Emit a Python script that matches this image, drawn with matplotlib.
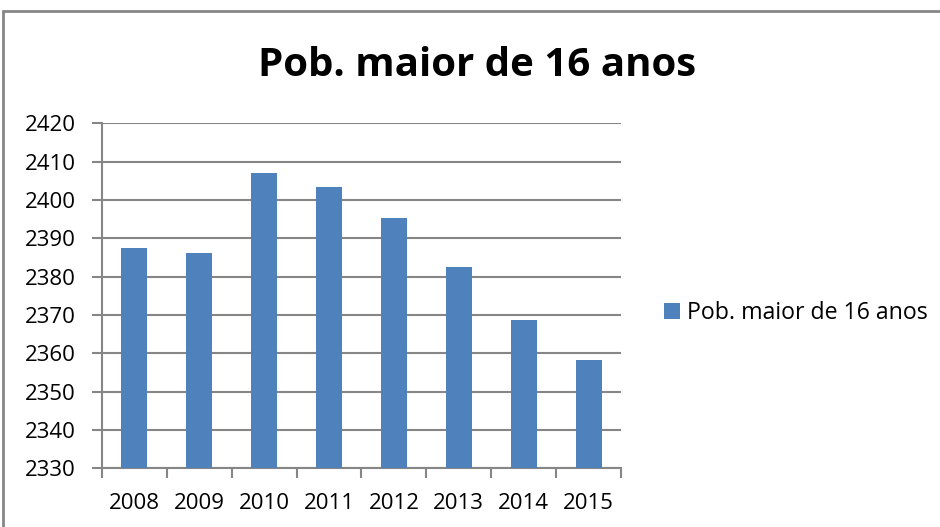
import numpy as np
import matplotlib.pyplot as plt
from matplotlib.patches import Rectangle

# data
years = ['2008', '2009', '2010', '2011', '2012', '2013', '2014', '2015']
pob_16 = [2387.6, 2386.2, 2407.0, 2403.5, 2395.2, 2382.4, 2368.6, 2358.2]
serie_label = 'Pob. maior de 16 anos'
y_ticks = list(range(2330, 2421, 10))

bar_color = '#4F81BD'
grid_color = '#868686'

plt.rcParams['font.family'] = ['Open Sans', 'DejaVu Sans']

fig = plt.figure(figsize=(9.4, 5.27), dpi=100)
ax = fig.add_axes([0.1085, 0.1114, 0.5521, 0.6546])

x = np.arange(len(years))
ax.bar(x, np.array(pob_16) - y_ticks[0], bottom=y_ticks[0], width=0.4,
       color=bar_color, label=serie_label, zorder=3)

ax.set_xlim(-0.5, len(years) - 0.5)
ax.set_ylim(y_ticks[0], y_ticks[-1])
ax.set_yticks(y_ticks)
ax.set_yticklabels([str(v) for v in y_ticks], fontsize=16)
ax.yaxis.grid(True, color=grid_color, linewidth=1.5, zorder=0)
ax.tick_params(axis='y', length=7, width=1.5, color=grid_color, pad=12)

# category labels centred, tick marks on boundaries
ax.set_xticks(x)
ax.set_xticklabels(years, fontsize=16)
ax.tick_params(axis='x', which='major', length=0, pad=18)
ax.set_xticks(np.arange(-0.5, len(years)), minor=True)
ax.tick_params(axis='x', which='minor', length=7, width=1.5, color=grid_color)

for side in ['top', 'right']:
    ax.spines[side].set_visible(False)
for side in ['left', 'bottom']:
    ax.spines[side].set_color(grid_color)
    ax.spines[side].set_linewidth(1.5)

fig.text(0.508, 0.875, serie_label, ha='center', va='center',
         fontsize=29, fontweight='bold')

fig.legend(loc='center left', bbox_to_anchor=(0.706, 0.406), frameon=False,
           fontsize=16.7, handlelength=0.7, handleheight=0.7,
           handletextpad=0.3, borderpad=0, borderaxespad=0)

# outer chart frame, only top and left edges fall inside the picture
fig.patches.append(Rectangle((3 / 940, -0.05), 1.0, 1.05 - 11 / 527,
                             transform=fig.transFigure, fill=False,
                             edgecolor=grid_color, linewidth=2))

fig.savefig('out.png', dpi=100)
